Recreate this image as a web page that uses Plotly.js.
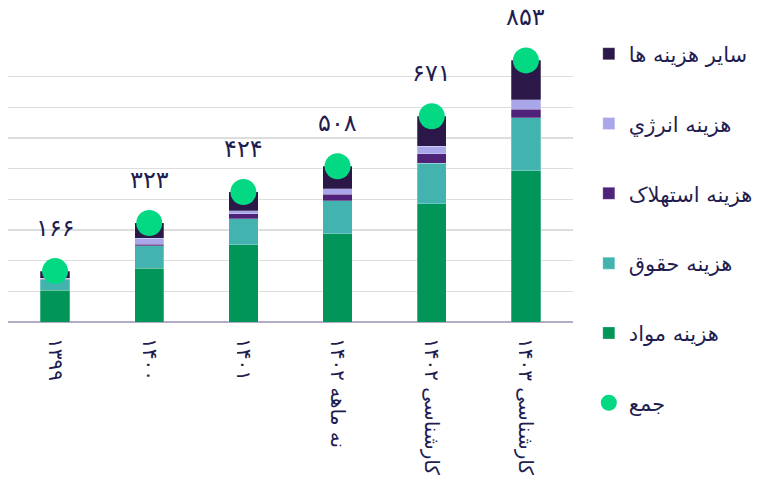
<!DOCTYPE html>
<html>
<head>
<meta charset="utf-8">
<script src="https://cdn.plot.ly/plotly-3.0.1.min.js"></script>
<style>html,body{margin:0;padding:0;background:#fff;}#chart{width:774px;height:486px;}</style>
</head>
<body>
<div id="chart"></div>
<script>
var categories = ['۱۳۹۹', '۱۴۰۰', '۱۴۰۱', 'نه ماهه ۱۴۰۲', 'کارشناسی ۱۴۰۲', 'کارشناسی ۱۴۰۳'];
var materials = [104, 175, 252, 287, 386, 493];
var salary = [33, 73, 85, 108, 132, 173];
var depreciation = [2, 6, 16, 22, 30, 28];
var energy = [4, 19, 10, 18, 25, 30];
var other = [23, 50, 61, 73, 98, 129];
var totals = [166, 323, 424, 508, 671, 853];
var totalLabels = ['۱۶۶', '۳۲۳', '۴۲۴', '۵۰۸', '۶۷۱', '۸۵۳'];

var seriesNames = ['هزینه مواد', 'هزینه حقوق', 'هزینه استهلاک', 'هزینه انرژي', 'سایر هزینه ها'];
var seriesValues = [materials, salary, depreciation, energy, other];
var seriesColors = ['#02955a', '#42b3ae', '#4f237a', '#a9a7ea', '#2b1849'];
var seriesRanks = [5, 4, 3, 2, 1];

var textColor = '#1f1d4f';
var font = 'DejaVu Sans, sans-serif';

var traces = seriesValues.map(function (vals, i) {
  return {
    type: 'bar',
    x: categories,
    y: vals,
    name: seriesNames[i],
    legendgroup: 'g' + i,
    legendrank: seriesRanks[i],
    marker: {color: seriesColors[i], line: {color: 'rgba(255,255,255,0.5)', width: 0.5}},
    hoverinfo: 'skip'
  };
});

traces.push({
  type: 'scatter',
  mode: 'markers',
  x: categories,
  y: totals,
  name: 'جمع',
  legendgroup: 'gt',
  legendrank: 6,
  marker: {color: '#02d982', size: 26},
  cliponaxis: false
});

var annotations = categories.map(function (c, i) {
  return {
    x: c, y: totals[i], xref: 'x', yref: 'y',
    text: totalLabels[i], showarrow: false,
    yshift: 43, yanchor: 'middle',
    font: {family: font, size: 24, color: textColor}
  };
});

var layout = {
  width: 774, height: 486,
  margin: {l: 8, r: 201, t: 46, b: 164},
  paper_bgcolor: '#fff', plot_bgcolor: '#fff',
  barmode: 'stack',
  bargap: 0.69,
  font: {family: font, color: textColor, size: 17},
  showlegend: true,
  legend: {
    x: 1.028, xanchor: 'left', y: 1.045, yanchor: 'top',
    traceorder: 'grouped',
    tracegroupgap: 39.5,
    maxheight: 480,
    font: {family: font, size: 21, color: textColor},
    itemwidth: 30
  },
  xaxis: {
    type: 'category',
    tickangle: 90,
    ticks: '',
    showgrid: false,
    showline: false,
    zeroline: false,
    ticklabelstandoff: 15,
    tickfont: {family: font, size: 20, color: textColor}
  },
  yaxis: {
    range: [0, 900],
    dtick: 100,
    showticklabels: false,
    ticks: '',
    showgrid: true,
    gridcolor: '#dddddd',
    gridwidth: 1.5,
    zeroline: true,
    zerolinecolor: '#b3aac6',
    zerolinewidth: 2
  },
  annotations: annotations
};

Plotly.newPlot('chart', traces, layout, {displayModeBar: false, staticPlot: true});
</script>
</body>
</html>
